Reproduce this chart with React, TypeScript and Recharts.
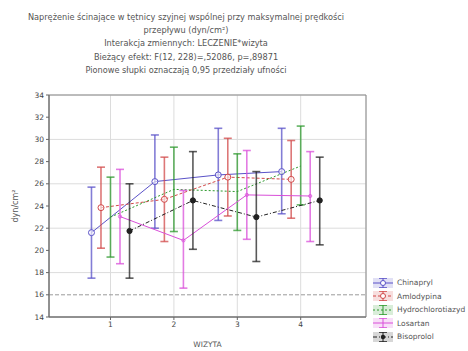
import React from 'react';
import { ComposedChart, Line, ErrorBar, XAxis, YAxis, CartesianGrid, ReferenceLine, ReferenceArea } from 'recharts';

const visits = [1, 2, 3, 4];
const seriesNames = ['Chinapryl', 'Amlodypina', 'Hydrochlorotiazyd', 'Losartan', 'Bisoprolol'];
const yTicks = [14, 16, 18, 20, 22, 24, 26, 28, 30, 32, 34];
const titleLines = [
  'Naprężenie ścinające w tętnicy szyjnej wspólnej przy maksymalnej prędkości',
  'przepływu (dyn/cm²)',
  'Interakcja zmiennych: LECZENIE*wizyta',
  'Bieżący efekt: F(12, 228)=,52086, p=,89871',
  'Pionowe słupki oznaczają 0,95 przedziały ufności',
];

const chinaprylMean = [21.6, 26.2, 26.8, 27.1];
const chinaprylLow = [17.5, 22.0, 22.7, 23.3];
const chinaprylHigh = [25.7, 30.4, 31.0, 31.0];

const amlodypinaMean = [23.85, 24.6, 26.6, 26.4];
const amlodypinaLow = [20.2, 20.8, 23.1, 22.9];
const amlodypinaHigh = [27.5, 28.4, 30.1, 29.9];

const hydroMean = [23.0, 25.5, 25.3, 27.6];
const hydroLow = [19.4, 21.7, 21.8, 24.1];
const hydroHigh = [26.6, 29.3, 28.7, 31.2];

const losartanMean = [23.05, 20.9, 25.0, 24.9];
const losartanLow = [18.8, 16.6, 21.0, 20.8];
const losartanHigh = [27.3, 25.4, 29.0, 28.9];

const bisoprololMean = [21.75, 24.5, 23.0, 24.5];
const bisoprololLow = [17.5, 20.1, 19.0, 20.5];
const bisoprololHigh = [26.0, 28.9, 27.1, 28.4];

const dodge = [-0.3, -0.15, 0, 0.15, 0.3];

const styles = [
  { color: '#5a52c8', dash: undefined, dot: 'open' },
  { color: '#d24a4a', dash: '3 2', dot: 'open' },
  { color: '#2e9a2e', dash: '2 2', dot: 'none' },
  { color: '#d94fd9', dash: undefined, dot: 'small' },
  { color: '#222222', dash: '4 2 1 2', dot: 'filled' },
];

const raw = [
  [chinaprylMean, chinaprylLow, chinaprylHigh],
  [amlodypinaMean, amlodypinaLow, amlodypinaHigh],
  [hydroMean, hydroLow, hydroHigh],
  [losartanMean, losartanLow, losartanHigh],
  [bisoprololMean, bisoprololLow, bisoprololHigh],
];

const series = raw.map(([m, lo, hi], i) => ({
  name: seriesNames[i],
  ...styles[i],
  data: visits.map((v, j) => ({ x: v + dodge[i], y: m[j], err: [m[j] - lo[j], hi[j] - m[j]] })),
}));

const font = '"DejaVu Sans", Verdana, sans-serif';

const makeDot = (kind: string, color: string) => (props: any) => {
  const { cx, cy, key } = props;
  if (cx == null || cy == null) return <g key={key} />;
  if (kind === 'open') return <circle key={key} cx={cx} cy={cy} r={3} fill="#fff" fillOpacity={0.6} stroke={color} strokeWidth={1} />;
  if (kind === 'filled') return <circle key={key} cx={cx} cy={cy} r={2.6} fill={color} stroke={color} />;
  if (kind === 'small') return <circle key={key} cx={cx} cy={cy} r={1.6} fill="none" stroke={color} strokeWidth={0.8} />;
  return <g key={key} />;
};

const LegendIcon = ({ s }: { s: any }) => (
  <svg width={22} height={12} style={{ display: 'block' }}>
    <rect x={1} y={1} width={20} height={10} fill={s.color} fillOpacity={0.18} />
    <line x1={1} y1={6} x2={21} y2={6} stroke={s.color} strokeWidth={1} strokeDasharray={s.dash} />
    <line x1={11} y1={1} x2={11} y2={11} stroke={s.color} strokeWidth={1} />
    <line x1={7} y1={1.5} x2={15} y2={1.5} stroke={s.color} strokeWidth={0.8} />
    <line x1={7} y1={10.5} x2={15} y2={10.5} stroke={s.color} strokeWidth={0.8} />
    {s.dot === 'open' && <circle cx={11} cy={6} r={2.5} fill="#fff" stroke={s.color} />}
    {s.dot === 'filled' && <circle cx={11} cy={6} r={2.2} fill={s.color} />}
  </svg>
);

export default function App() {
  return (
    <div style={{ position: 'absolute', left: 0, top: 0, width: 468, height: 351, background: '#fff', overflow: 'hidden', fontFamily: font }}>
      {titleLines.map((t, i) => (
        <div key={i} style={{ position: 'absolute', left: 0, width: 372, top: 12 + i * 13.2, textAlign: 'center', fontSize: 8.2, color: '#555', lineHeight: '10px', whiteSpace: 'nowrap' }}>
          {t}
        </div>
      ))}
      <div style={{ position: 'absolute', left: 0, top: 0 }}>
        <ComposedChart width={468} height={351} margin={{ top: 95, right: 102, bottom: 14, left: 17 }}>
          <CartesianGrid stroke="#dcdcdc" strokeWidth={1} />
          <XAxis
            dataKey="x"
            type="number"
            domain={[0.03, 5.03]}
            ticks={visits}
            allowDuplicatedCategory={false}
            height={20}
            tick={{ fontSize: 7.5, fill: '#444', fontFamily: font }}
            tickSize={3}
            axisLine={{ stroke: '#666' }}
            tickLine={{ stroke: '#666' }}
            label={{ value: 'WIZYTA', position: 'insideBottom', offset: -10, fontSize: 7.5, fill: '#555', fontFamily: font }}
          />
          <YAxis
            type="number"
            domain={[14, 34]}
            ticks={yTicks}
            width={32}
            tick={{ fontSize: 7.5, fill: '#444', fontFamily: font }}
            tickSize={3}
            axisLine={{ stroke: '#666' }}
            tickLine={{ stroke: '#666' }}
            label={{ value: 'dyn/cm²', angle: -90, position: 'insideLeft', offset: -2, fontSize: 8, fill: '#555', fontFamily: font, style: { textAnchor: 'middle' } }}
          />
          <ReferenceArea x1={0.03} x2={5.03} y1={14} y2={34} fill="none" stroke="#8a8a8a" strokeWidth={1} />
          <ReferenceLine y={16} stroke="#9a9a9a" strokeDasharray="4 2" />
          {series.map((s) => (
            <Line
              key={s.name}
              data={s.data}
              dataKey="y"
              name={s.name}
              stroke={s.color}
              strokeWidth={1}
              strokeDasharray={s.dash}
              dot={makeDot(s.dot, s.color)}
              activeDot={false}
              isAnimationActive={false}
            >
              <ErrorBar dataKey="err" direction="y" width={4} stroke={s.color} strokeWidth={1.6} strokeOpacity={0.75} isAnimationActive={false} />
            </Line>
          ))}
        </ComposedChart>
      </div>
      <div style={{ position: 'absolute', left: 372, top: 276 }}>
        {series.map((s) => (
          <div key={s.name} style={{ display: 'flex', alignItems: 'center', height: 13.5 }}>
            <LegendIcon s={s} />
            <span style={{ fontSize: 7.5, color: '#555', marginLeft: 3, whiteSpace: 'nowrap' }}>{s.name}</span>
          </div>
        ))}
      </div>
    </div>
  );
}
